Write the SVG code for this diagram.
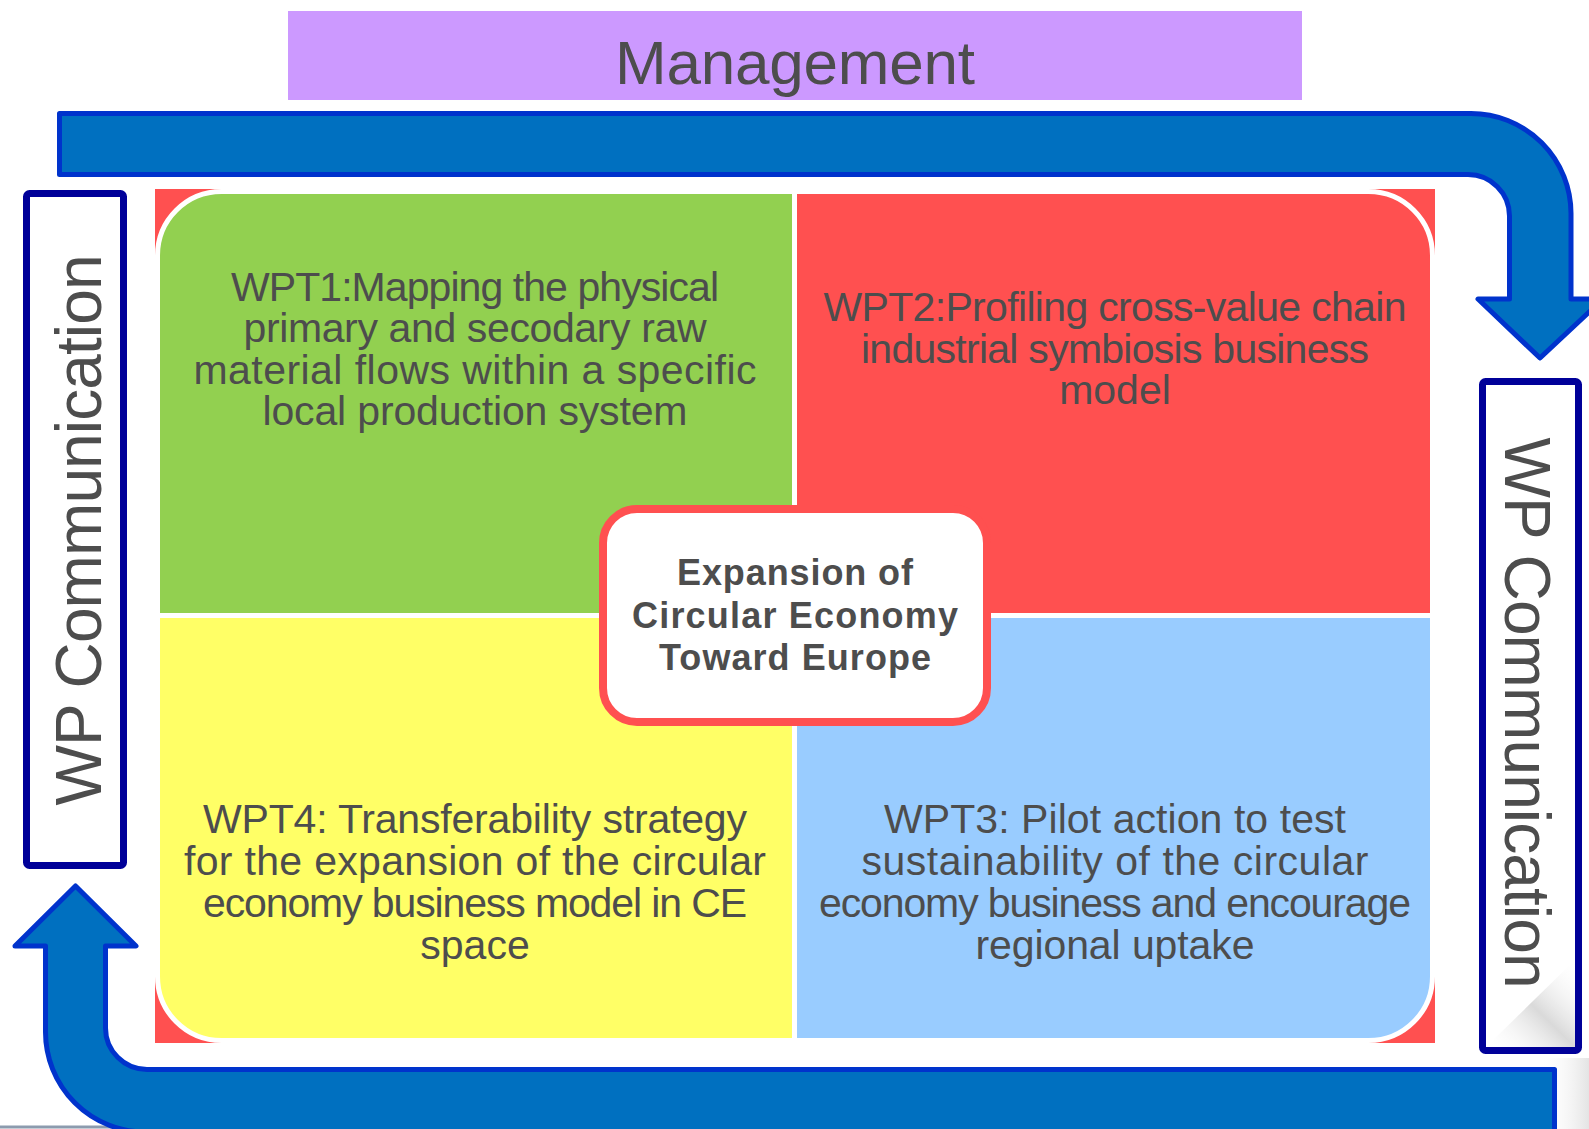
<svg xmlns="http://www.w3.org/2000/svg" width="1589" height="1129" viewBox="0 0 1589 1129">
<defs>
<style>
.txt{font-family:"Liberation Sans",Arial,sans-serif;fill:#4d4d4d;text-anchor:middle}
.q{font-size:41px}
.c{font-size:36px;font-weight:bold}
.wpt{font-size:64px}
.arrow{fill:#0070C0;stroke:#0033CC;stroke-width:5;stroke-linejoin:round}
.wp{fill:#ffffff;stroke:#000099;stroke-width:7}
.quad{stroke:#ffffff;stroke-width:5}
</style>
<linearGradient id="curl" x1="0" y1="1" x2="1" y2="0">
<stop offset="0" stop-color="#ffffff" stop-opacity="0"/>
<stop offset="0.5" stop-color="#d0d0d0" stop-opacity="0.8"/>
<stop offset="1" stop-color="#ffffff" stop-opacity="0"/>
</linearGradient>
<linearGradient id="shade" x1="0" y1="0" x2="1" y2="0">
<stop offset="0" stop-color="#ffffff" stop-opacity="0"/>
<stop offset="1" stop-color="#d8d8d8" stop-opacity="0.7"/>
</linearGradient>
</defs>
<rect width="1589" height="1129" fill="#ffffff"/>
<line x1="0" y1="1127" x2="160" y2="1127" stroke="#8C9BAE" stroke-width="3"/>
<rect x="1540" y="1058" width="49" height="71" fill="url(#shade)"/>

<g id="management">
<rect x="288" y="11" width="1014" height="89" fill="#CC99FF"/>
<text class="txt" x="795" y="84" font-size="62" textLength="360">Management</text>
</g>

<g id="connectors">
<path class="arrow" d="M59.5 113.5 H1471 A100 100 0 0 1 1571 213.5 V299 H1603 L1540 358 L1478 299 H1509.5 V216 A41.5 41.5 0 0 0 1468 174.5 H59.5 Z"/>
<path class="arrow" d="M75.5 886 L136 946 H105.5 V1028 A41.5 41.5 0 0 0 147 1069.5 H1554.5 V1132 H145.5 A100 100 0 0 1 45.5 1032 V946 H15 Z"/>
</g>

<g id="wp-communication-left">
<rect class="wp" x="26.5" y="193.5" width="97" height="672" rx="3"/>
<text class="txt wpt" transform="translate(101 530) rotate(-90)" x="0" y="0" textLength="551">WP Communication</text>
</g>

<g id="wp-communication-right">
<rect class="wp" x="1482.5" y="381.5" width="96" height="669" rx="3"/>
<path d="M1486 1047 L1575 960 V1047 Z" fill="url(#curl)"/>
<text class="txt wpt" transform="translate(1505 713) rotate(90)" x="0" y="0" textLength="551">WP Communication</text>
</g>

<rect id="quadrant-background" x="155" y="189" width="1280" height="854" fill="#FF5050"/>

<g id="wpt1">
<path class="quad" fill="#92D050" d="M157.5 255.5 A64 64 0 0 1 221.5 191.5 H794.5 V615.5 H157.5 Z"/>
<text class="txt q" x="475" y="300.5" textLength="488">WPT1:Mapping the physical</text>
<text class="txt q" x="475" y="342" textLength="463">primary and secodary raw</text>
<text class="txt q" x="475" y="383.5" textLength="563">material flows within a specific</text>
<text class="txt q" x="475" y="425" textLength="425">local production system</text>
</g>

<g id="wpt2">
<path class="quad" fill="#FF5050" d="M794.5 191.5 H1368.5 A64 64 0 0 1 1432.5 255.5 V615.5 H794.5 Z"/>
<text class="txt q" x="1115" y="320.5" textLength="583">WPT2:Profiling cross-value chain</text>
<text class="txt q" x="1115" y="362.5" textLength="508">industrial symbiosis business</text>
<text class="txt q" x="1115" y="404">model</text>
</g>

<g id="wpt4">
<path class="quad" fill="#FFFF66" d="M157.5 615.5 H794.5 V1040.5 H221.5 A64 64 0 0 1 157.5 976.5 Z"/>
<text class="txt q" x="475" y="832.5" textLength="544">WPT4: Transferability strategy</text>
<text class="txt q" x="475" y="875" textLength="582">for the expansion of the circular</text>
<text class="txt q" x="475" y="916.5" textLength="544">economy business model in CE</text>
<text class="txt q" x="475" y="959">space</text>
</g>

<g id="wpt3">
<path class="quad" fill="#99CCFF" d="M794.5 615.5 H1432.5 V976.5 A64 64 0 0 1 1368.5 1040.5 H794.5 Z"/>
<text class="txt q" x="1115" y="832.5" textLength="462">WPT3: Pilot action to test</text>
<text class="txt q" x="1115" y="875" textLength="507">sustainability of the circular</text>
<text class="txt q" x="1115" y="916.5" textLength="592">economy business and encourage</text>
<text class="txt q" x="1115" y="959" textLength="279">regional uptake</text>
</g>

<g id="center">
<rect x="603" y="509" width="384" height="213" rx="34" fill="#ffffff" stroke="#FF5050" stroke-width="8"/>
<text class="txt c" x="795" y="585" textLength="236">Expansion of</text>
<text class="txt c" x="795" y="627.5" textLength="326">Circular Economy</text>
<text class="txt c" x="795" y="670" textLength="272">Toward Europe</text>
</g>
</svg>
